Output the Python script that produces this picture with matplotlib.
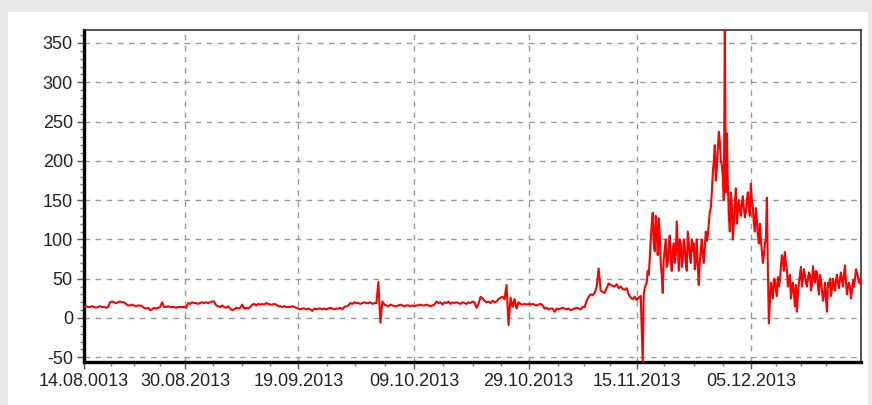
import numpy as np
import matplotlib.pyplot as plt
from matplotlib.patches import Rectangle

plt.rcParams['font.family'] = ['Liberation Sans', 'DejaVu Sans']
plt.rcParams['axes.unicode_minus'] = False

values_calm = [
    14, 15, 14, 14, 15, 14, 13, 14, 15, 14,
    14, 13, 14, 20, 21, 20, 19, 20, 21, 20,
    20, 18, 16, 16, 17, 16, 15, 16, 16, 15,
    13, 12, 13, 10, 11, 13, 12, 13, 14, 20,
    14, 14, 15, 14, 14, 14, 13, 14, 14, 14,
    14, 13, 19, 18, 20, 19, 19, 18, 19, 20,
    19, 20, 19, 20, 21, 21, 16, 15, 14, 16,
    14, 13, 15, 12, 10, 11, 13, 12, 13, 17,
    12, 13, 12, 14, 17, 18, 16, 18, 17, 18,
    17, 19, 18, 17, 17, 18, 17, 15, 15, 14,
    15, 14, 14, 14, 15, 14, 13, 12, 11, 12,
    12, 11, 12, 11, 9, 12, 11, 12, 12, 11,
    12, 11, 12, 13, 12, 11, 12, 12, 13, 11,
    14, 15, 16, 19, 18, 20, 19, 19, 18, 19,
    20, 19, 19, 20, 18, 19, 19, 46, -6, 21,
    17, 16, 15, 17, 16, 15, 15, 16, 17, 16,
    15, 16, 16, 15, 16, 15, 16, 16, 17, 16,
    16, 17, 16, 15, 16, 17, 21, 19, 20, 17,
    20, 19, 21, 18, 20, 19, 20, 19, 18, 20,
    19, 18, 20, 19, 21, 20, 13, 18, 27, 25,
    22, 20, 21, 19, 22, 20, 21, 24, 26, 27,
    24, 42, -9, 26, 14, 24, 12, 20, 18, 17,
    18, 17, 18, 17, 18, 17, 16, 17, 18, 16,
    12, 13, 11, 12, 12, 8, 12, 11, 12, 13,
    12, 11, 12, 10, 11, 12, 13, 12, 11, 14,
    14, 22, 27, 30, 29, 32, 40, 63, 35, 33,
    32, 38, 44, 42, 41, 40, 43, 38, 40, 37,
    36, 38, 30, 26, 24, 27, 23, 26, 28, -56,
]

# volatile part, read about every 1 px (after the 15.11 drop)
values_volatile = [
    30, 38, 42, 45, 60, 55, 75, 100, 120, 134,
    95, 85, 130, 110, 80, 127, 105, 70, 55, 32,
    75, 88, 100, 65, 70, 92, 105, 75, 60, 85,
    95, 70, 80, 123, 90, 60, 100, 95, 65, 75,
    100, 90, 70, 60, 110, 95, 80, 70, 100, 85,
    95, 62, 75, 100, 65, 42, 70, 88, 100, 80,
    70, 90, 110, 98, 105, 120, 135, 140, 160, 185,
    200, 220, 175, 190, 215, 237, 225, 200, 195, 180,
    150, 370, 160, 235, 170, 130, 110, 160, 145, 100,
    120, 145, 165, 120, 135, 150, 140, 130, 145, 155,
    140, 128, 135, 150, 160, 140, 130, 171, 150, 140,
    120, 110, 140, 125, 105, 95, 120, 100, 85, 70,
    80, 95, 100, 153, 60, -7, 20, 45, 35, 25,
    50, 48, 35, 28, 52, 40, 48, 65, 80, 75,
    60, 84, 70, 62, 40, 50, 55, 25, 38, 45,
    30, 15, 42, 8, 30, 45, 55, 65, 40, 50,
    62, 55, 45, 40, 50, 58, 55, 35, 42, 66,
    52, 45, 60, 58, 40, 30, 55, 48, 35, 22,
    30, 45, 25, 8, 45, 40, 50, 28, 38, 50,
    42, 35, 48, 55, 45, 38, 50, 58, 48, 40,
    55, 67, 45, 30, 40, 45, 38, 25, 35, 48,
    40, 50, 62, 58, 52, 45, 50, 42,
]

tick_pos = [0, 50.5, 107, 165, 222, 276, 333]
tick_labels = ['14.08.0013', '30.08.2013', '19.09.2013', '09.10.2013',
               '29.10.2013', '15.11.2013', '05.12.2013']
minor_pos = [13.5, 25, 38, 64.5, 79, 93, 121.5, 135.5, 150.5, 179.5, 194,
             208, 236.5, 249.5, 262.5, 289.5, 304.5, 319, 345.5, 358, 370.5]

# bar index: calm part 1 step per value, volatile part half a step per value
x_calm = np.arange(len(values_calm))
x_vol = x_calm[-1] + 0.5 * np.arange(1, len(values_volatile) + 1)
x = np.concatenate([x_calm, x_vol])
y = np.concatenate([values_calm, values_volatile])

fig = plt.figure(figsize=(8.72, 4.05), dpi=100, facecolor='#e9e9e9')
fig.patches.append(Rectangle((8 / 872, 0), 860 / 872, 393 / 405,
                             transform=fig.transFigure, facecolor='white',
                             edgecolor='none', zorder=-5))

ax = fig.add_axes([84 / 872, 1 - 362 / 405, 777 / 872, 332 / 405])
ax.set_zorder(2)
ax.plot(x, y, color='#ff0000', linewidth=1.5, zorder=3)

ax.set_xlim(0, x[-1])
ax.set_ylim(-56, 366.5)
ax.set_yticks(range(-50, 351, 50))
ax.set_yticks(range(-50, 361, 10), minor=True)
ax.set_xticks(tick_pos)
ax.set_xticklabels(tick_labels)
ax.set_xticks(minor_pos, minor=True)

ax.grid(True, which='major', color='#999999', linestyle=(0, (4, 4)), linewidth=1.0)
ax.tick_params(axis='both', which='major', labelsize=13, labelcolor='#222222',
               length=5, width=1, color='#555555', direction='out', pad=3)
ax.tick_params(axis='both', which='minor', length=3, width=1, color='#777777',
               direction='out')

for side in ['left', 'bottom']:
    ax.spines[side].set_linewidth(2.4)
    ax.spines[side].set_color('black')
for side in ['top', 'right']:
    ax.spines[side].set_linewidth(1.2)
    ax.spines[side].set_color('#333333')

plt.savefig('out.png', dpi=100, facecolor=fig.get_facecolor())
